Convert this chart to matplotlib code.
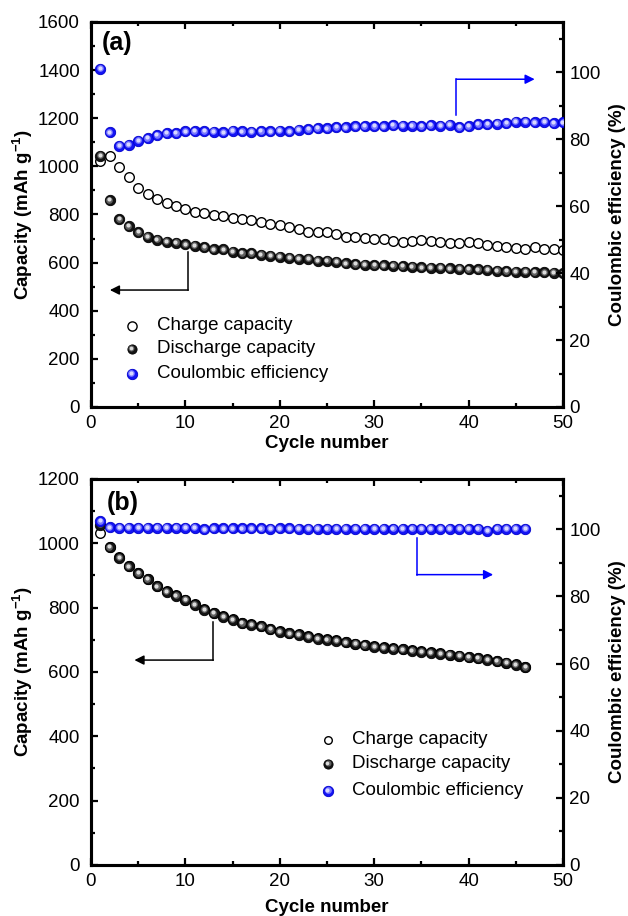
import numpy as np
import matplotlib
matplotlib.use("Agg")
import matplotlib.pyplot as plt
from matplotlib.ticker import MultipleLocator
from matplotlib.transforms import offset_copy

plt.rcParams['font.family'] = ['Liberation Sans', 'DejaVu Sans']
plt.rcParams['mathtext.fontset'] = 'custom'
plt.rcParams['mathtext.rm'] = 'Liberation Sans:bold'
plt.rcParams['mathtext.bf'] = 'Liberation Sans:bold'
plt.rcParams['mathtext.default'] = 'bf'

# -----------------------------
# DATA
# -----------------------------
cycles_a = np.arange(1, 51)
charge_a = [1022, 1045, 999, 956, 909, 885, 863, 846, 836, 821,
            812, 805, 798, 795, 784, 780, 777, 768, 761, 756,
            749, 740, 729, 726, 729, 718, 705, 708, 701, 698,
            698, 690, 686, 690, 694, 690, 684, 680, 683, 686,
            680, 672, 668, 663, 660, 657, 665, 655, 657, 653]
discharge_a = [1045, 860, 781, 752, 726, 708, 694, 687, 683, 676,
               670, 664, 655, 655, 646, 639, 639, 632, 628, 625,
               621, 615, 615, 608, 608, 604, 597, 594, 592, 590,
               588, 586, 585, 583, 580, 579, 578, 576, 575, 573,
               572, 570, 567, 565, 563, 562, 560, 559, 557, 555]
ce_a = [101.0, 82.0, 78.0, 78.3, 79.5, 80.3, 81.2, 81.8, 81.8, 82.3,
        82.4, 82.4, 82.2, 82.0, 82.5, 82.3, 82.2, 82.4, 82.3, 82.5,
        82.3, 82.8, 83.0, 83.3, 83.2, 83.6, 83.5, 83.8, 83.9, 83.9,
        83.8, 84.2, 84.0, 84.0, 83.9, 84.2, 84.0, 84.3, 83.6, 83.9,
        84.5, 84.5, 84.6, 84.8, 85.2, 85.2, 85.0, 85.2, 84.8, 85.0]

cycles_b = np.arange(1, 47)
charge_b = [1033, 989, 956, 929, 908, 890, 867, 851, 838, 825,
            810, 795, 784, 773, 764, 753, 748, 743, 734, 726,
            721, 717, 711, 705, 701, 698, 693, 688, 684, 680,
            677, 673, 671, 667, 664, 661, 658, 654, 651, 647,
            644, 639, 635, 629, 624, 616]
discharge_b = [1058, 988, 955, 928, 907, 889, 866, 850, 837, 824,
               809, 794, 783, 772, 763, 752, 747, 742, 733, 725,
               720, 716, 710, 704, 700, 697, 692, 687, 683, 679,
               676, 672, 670, 666, 663, 660, 657, 653, 650, 646,
               643, 638, 634, 628, 623, 615]
ce_b = [102.4, 100.6, 100.4, 100.4, 100.4, 100.4, 100.4, 100.4, 100.4, 100.4,
        100.4, 100.0, 100.3, 100.3, 100.3, 100.3, 100.3, 100.3, 100.2, 100.3,
        100.3, 100.2, 100.2, 100.2, 100.2, 100.2, 100.2, 100.2, 100.2, 100.2,
        100.2, 100.2, 100.2, 100.2, 100.2, 100.2, 100.2, 100.2, 100.2, 100.2,
        100.2, 99.6, 100.1, 100.2, 100.2, 100.2]

legend_labels = ["Charge capacity", "Discharge capacity", "Coulombic efficiency"]

S = 56
BLUE = ('#1414f5', '#0000cc', '#7878ff', '#d8d8ff')
BLACK = ('#141414', '#000000', '#606060', '#dcdcdc')
TICK_FS = 13.5
LABEL_FS = 13.5


def sphere(ax, x, y, colors, s=S, z=3, trans=None):
    # dark disc + lighter discs on top to fake a shaded ball
    base, edge, mid, hi = colors
    if trans is None:
        trans = ax.transData
    ax.scatter(x, y, s=s, c=base, edgecolors=edge, linewidths=0.6,
               zorder=z, transform=trans)
    ax.scatter(x, y, s=s * 0.42, c=mid, linewidths=0, zorder=z + 0.1,
               transform=offset_copy(trans, fig=ax.figure, x=-0.4, y=0.5, units='dots'))
    ax.scatter(x, y, s=s * 0.16, c=hi, linewidths=0, zorder=z + 0.2,
               transform=offset_copy(trans, fig=ax.figure, x=-0.6, y=0.8, units='dots'))


def style_axes(ax, ax2, ymax):
    ax.set_xlim(0, 50)
    ax.set_ylim(0, ymax)
    ax2.set_ylim(0, 115)
    ax.xaxis.set_major_locator(MultipleLocator(10))
    ax.xaxis.set_minor_locator(MultipleLocator(5))
    ax.yaxis.set_major_locator(MultipleLocator(200))
    ax.yaxis.set_minor_locator(MultipleLocator(100))
    ax2.yaxis.set_major_locator(MultipleLocator(20))
    ax2.yaxis.set_minor_locator(MultipleLocator(10))
    for a in (ax, ax2):
        for sp in a.spines.values():
            sp.set_linewidth(2.2)
        a.tick_params(which='both', direction='in', width=1.6, labelsize=TICK_FS)
        a.tick_params(which='major', length=5)
        a.tick_params(which='minor', length=3)
    ax.tick_params(which='both', top=True, right=False)
    ax.tick_params(axis='x', pad=5.5)
    ax.tick_params(axis='y', pad=8)
    ax2.tick_params(axis='y', pad=4.5)
    ax.set_xlabel("Cycle number", fontsize=LABEL_FS, fontweight='bold')
    ax.set_ylabel(r"Capacity (mAh g$^{-1}$)", fontsize=LABEL_FS, fontweight='bold')
    ax2.set_ylabel("Coulombic efficiency (%)", fontsize=LABEL_FS, fontweight='bold')
    ax.yaxis.set_label_coords(-0.119, 0.5)
    ax2.yaxis.set_label_coords(1.097, 0.5)


def legend(ax2, x0, xt, ys, small_open=False):
    tr = ax2.transAxes
    s_open = 30 if small_open else 44
    ax2.scatter([x0], [ys[0]], s=s_open, facecolors='white', edgecolors='black',
                linewidths=1.0, transform=tr, zorder=6)
    sphere(ax2, [x0], [ys[1]], BLACK, s=44, z=6, trans=tr)
    sphere(ax2, [x0], [ys[2]], BLUE, s=56, z=6, trans=tr)
    for y, lab in zip(ys, legend_labels):
        ax2.text(xt, y, lab, transform=tr, fontsize=13.5, va='center', ha='left')


def arrow(ax, x0, y0, y1, x1, color):
    ax.plot([x0, x0], [y0, y1], color=color, lw=1.1, zorder=4)
    ax.annotate('', xy=(x1, y1), xytext=(x0, y1),
                arrowprops=dict(arrowstyle='-|>', color=color, lw=1.1,
                                mutation_scale=14, shrinkA=0, shrinkB=0))


fig = plt.figure(figsize=(6.28, 9.16), dpi=100)

# -----------------------------
# PANEL (a)
# -----------------------------
ax = fig.add_axes([0.1449, 0.5557, 0.7516, 0.4203])
ax2 = ax.twinx()
ax.scatter(cycles_a, charge_a, s=48, facecolors='white', edgecolors='black',
           linewidths=1.0, zorder=2)
sphere(ax, cycles_a, discharge_a, BLACK, z=3)
sphere(ax2, cycles_a, ce_a, BLUE, z=3)
style_axes(ax, ax2, 1600)
ax.xaxis.set_label_coords(0.5, -0.072)
arrow(ax, 10.3, 645, 486, 2.0, 'black')
arrow(ax2, 38.7, 87.2, 97.9, 47.0, '#0000ff')
legend(ax2, 0.086, 0.139, [0.211, 0.151, 0.0857])
ax.text(0.022, 0.946, "(a)", transform=ax.transAxes, fontsize=18,
        fontweight='bold', va='center', ha='left')

# -----------------------------
# PANEL (b)
# -----------------------------
bx = fig.add_axes([0.1449, 0.0557, 0.7516, 0.4214])
bx2 = bx.twinx()
bx.scatter(cycles_b, charge_b, s=48, facecolors='white', edgecolors='black',
           linewidths=1.0, zorder=2)
sphere(bx, cycles_b, discharge_b, BLACK, z=3)
sphere(bx2, cycles_b, ce_b, BLUE, z=3)
style_axes(bx, bx2, 1200)
bx.xaxis.set_label_coords(0.5, -0.088)
arrow(bx, 12.96, 756, 637, 4.6, 'black')
arrow(bx2, 34.5, 97.4, 86.5, 42.6, '#0000ff')
legend(bx2, 0.502, 0.554, [0.324, 0.262, 0.192], small_open=True)
bx.text(0.033, 0.9386, "(b)", transform=bx.transAxes, fontsize=18,
        fontweight='bold', va='center', ha='left')

fig.savefig("out.png", dpi=100)
